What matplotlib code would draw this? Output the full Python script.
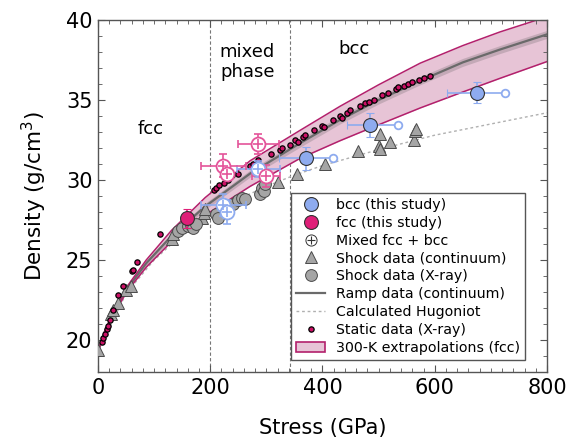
import numpy as np
import matplotlib
matplotlib.use("Agg")
import matplotlib.pyplot as plt
from matplotlib.lines import Line2D
from matplotlib.patches import Patch
from matplotlib.ticker import MultipleLocator

# 300-K extrapolation band (fcc) + ramp curve (continuum)
band_p = [0, 12, 29, 53, 86, 131, 191, 271, 360, 431, 500, 574, 650, 716, 800]
band_hi = [19.3, 20.55, 21.9, 23.4, 25.0, 26.85, 28.9, 31.2, 33.1, 34.6, 35.95, 37.3,
           38.4, 39.25, 40.2]
band_lo = [19.3, 20.45, 21.7, 23.1, 24.55, 26.15, 27.8, 29.6, 31.35, 32.45, 33.45, 34.5,
           35.5, 36.35, 37.4]
ramp_rho = [19.3, 20.5, 21.8, 23.25, 24.8, 26.5, 28.35, 30.4, 32.3, 33.75, 35.0, 36.2,
            37.35, 38.15, 39.1]
ramp_unc = [0.0, 0.05, 0.1, 0.12, 0.15, 0.18, 0.2, 0.22, 0.25, 0.25, 0.25, 0.25, 0.25,
            0.25, 0.25]

# calculated Hugoniot
hug_p = [0, 50, 100, 150, 200, 250, 300, 350, 400, 500, 600, 700, 800]
hug_rho = [19.3, 22.9, 25.0, 26.6, 27.8, 28.8, 29.6, 30.3, 30.9, 31.9, 32.8, 33.5, 34.2]

# shock data (continuum)
shk_p = [0.5, 23, 26, 35, 50, 58, 131, 134, 186, 189, 191, 321, 354, 404, 463,
         501, 502, 502, 520, 563, 565, 567]
shk_rho = [19.4, 21.6, 21.85, 22.3, 23.1, 23.35, 26.3, 26.6, 27.6, 27.95, 28.2, 29.9,
           30.35, 31.0, 31.8, 32.1, 31.95, 32.85, 32.35, 32.5, 33.05, 33.2]

# shock data (X-ray)
shx_p = [143, 150, 160, 165, 170, 174, 210, 213, 241, 250, 256, 262, 289, 292, 295, 297]
shx_rho = [26.8, 27.0, 27.1, 27.2, 27.0, 27.25, 27.9, 27.6, 28.5, 28.75, 28.85, 28.8,
           29.1, 29.5, 29.3, 29.75]

# static data (X-ray)
st_p = [6.6, 9.5, 12.5, 15.5, 18.4, 21, 27, 36, 45, 60, 62, 69, 110, 207, 211, 216,
        225, 232, 238, 250, 271, 276, 286, 309, 324, 327, 342, 351, 357, 366, 369, 384,
        399, 402, 419, 431, 434, 444, 449, 466, 476, 482, 491, 506, 517, 531, 535, 546,
        553, 560, 572, 581, 592]
st_rho = [19.9, 20.1, 20.4, 20.7, 20.9, 21.25, 21.9, 22.8, 23.4, 24.3, 24.4, 24.86, 26.6,
          29.35, 29.5, 29.7, 29.8, 30.0, 30.3, 30.35, 30.9, 31.0, 31.25, 31.6, 31.9,
          32.0, 32.2, 32.5, 32.35, 32.7, 32.8, 33.1, 33.4, 33.3, 33.75, 34.0, 33.9, 34.2,
          34.4, 34.6, 34.8, 34.9, 35.0, 35.3, 35.45, 35.7, 35.8, 35.9, 36.0, 36.1, 36.25,
          36.4, 36.5]

# this study
fcc_p, fcc_rho, fcc_xerr, fcc_yerr = [159], [27.6], [8], [0.6]

bcc_p = [370, 485, 676]
bcc_rho = [31.35, 33.45, 35.45]
bcc_xerr_lo = [48, 42, 55]
bcc_yerr = [0.7, 0.75, 0.65]
bcc_p_open = [419, 535, 726]

mixf_p = [223, 229, 286, 299]
mixf_rho = [30.9, 30.4, 32.25, 30.25]
mixf_xerr = [40, 0, 37, 25]
mixf_yerr = [0.7, 0, 0.62, 0.68]

mixb_p = [286, 223, 229]
mixb_rho = [30.7, 28.45, 28.0]
mixb_xerr = [38, 40, 0]
mixb_yerr = [0.5, 0.7, 0.75]

phase_bounds = [200, 343]

pink = '#df1f78'
pink_lt = '#e4549a'
blue = '#8eabef'
band_fill = '#e7c4d6'
band_edge = '#b3206c'
grey_fill = '#a5a5a5'
grey_edge = '#4a4a4a'

fig = plt.figure(figsize=(5.68, 4.47), dpi=100)
ax = fig.add_axes([0.1725, 0.1678, 0.7905, 0.7875])

ax.fill_between(band_p, band_lo, band_hi, color=band_fill, lw=0, zorder=1)
rm = np.array(ramp_rho)
ru = np.array(ramp_unc)
ax.fill_between(band_p, rm - ru, rm + ru, color='#9a8a92', alpha=0.45, lw=0, zorder=1.5)
ax.plot(band_p, ramp_rho, color='#6a6a6a', lw=1.6, zorder=2)
ax.plot(band_p, band_hi, color=band_edge, lw=1.1, zorder=2.2)
ax.plot(band_p, band_lo, color=band_edge, lw=1.1, zorder=2.2)
ax.plot(hug_p, hug_rho, color='#b0b0b0', ls=(0, (2, 2)), lw=1, zorder=2)

for b in phase_bounds:
    ax.axvline(b, color='#777777', ls=(0, (3, 2)), lw=0.8, zorder=0.5)

ax.plot(shk_p, shk_rho, '^', ms=9, mfc=grey_fill, mec=grey_edge, mew=0.7, zorder=4)
ax.plot(shx_p, shx_rho, 'o', ms=8.5, mfc=grey_fill, mec=grey_edge, mew=0.7, zorder=4)
ax.plot(st_p, st_rho, 'o', ms=3.8, mfc='#cc1166', mec='black', mew=0.9, zorder=5)

# mixed fcc + bcc
for xs, ys, xe, ye, c in [(mixb_p, mixb_rho, mixb_xerr, mixb_yerr, blue),
                          (mixf_p, mixf_rho, mixf_xerr, mixf_yerr, pink_lt)]:
    ax.errorbar(xs, ys, xerr=xe, yerr=ye, fmt='none', ecolor=c, elinewidth=1.2,
                capsize=3, capthick=1.2, zorder=6)
    ax.plot(xs, ys, 'o', ms=10, mfc='white', mec=c, mew=1.3, zorder=6.5)
    ax.plot(xs, ys, '+', ms=7, color=c, mew=1.2, zorder=6.6)

# bcc
for x, y, xo in zip(bcc_p, bcc_rho, bcc_p_open):
    ax.plot([x, xo], [y, y], color=blue, lw=1.2, zorder=6)
ax.plot(bcc_p_open, bcc_rho, 'o', ms=5.5, mfc='white', mec=blue, mew=1.3, zorder=6.2)
ax.errorbar(bcc_p, bcc_rho, xerr=[bcc_xerr_lo, [0] * 3], yerr=bcc_yerr, fmt='o', ms=10,
            mfc=blue, mec='#333333', mew=0.8, ecolor=blue, elinewidth=1.2, capsize=3,
            capthick=1.2, zorder=7)

# fcc
ax.errorbar(fcc_p, fcc_rho, xerr=fcc_xerr, yerr=fcc_yerr, fmt='o', ms=10, mfc=pink,
            mec='#333333', mew=0.8, ecolor=pink, elinewidth=1.2, capsize=3,
            capthick=1.2, zorder=7)

ax.text(93, 33.2, 'fcc', fontsize=13, ha='center', va='center')
ax.text(266, 37.4, 'mixed\nphase', fontsize=13, ha='center', va='center', linespacing=1.15)
ax.text(456, 38.2, 'bcc', fontsize=13, ha='center', va='center')

ax.set_xlim(0, 800)
ax.set_ylim(18, 40)
ax.set_xticks(range(0, 801, 200))
ax.set_yticks(range(20, 41, 5))
ax.xaxis.set_minor_locator(MultipleLocator(20))
ax.yaxis.set_minor_locator(MultipleLocator(1))
ax.tick_params(which='both', direction='in', top=True, right=True, color='#555555')
ax.tick_params(which='major', length=5, labelsize=15, pad=4)
ax.tick_params(which='minor', length=3)
for s in ax.spines.values():
    s.set_color('#555555')
    s.set_linewidth(1.0)

ax.set_xlabel('Stress (GPa)', fontsize=15, labelpad=15)
ax.set_ylabel('Density (g/cm$^{3}$)', fontsize=15.5, labelpad=12)

handles = [
    Line2D([], [], marker='o', ls='none', ms=10, mfc=blue, mec='#333333', mew=0.8),
    Line2D([], [], marker='o', ls='none', ms=10, mfc=pink, mec='#333333', mew=0.8),
    (Line2D([], [], marker='o', ls='none', ms=8, mfc='white', mec='#333333', mew=0.7),
     Line2D([], [], marker='+', ls='none', ms=5.5, color='#333333', mew=0.8)),
    Line2D([], [], marker='^', ls='none', ms=9, mfc=grey_fill, mec=grey_edge, mew=0.7),
    Line2D([], [], marker='o', ls='none', ms=8.5, mfc=grey_fill, mec=grey_edge, mew=0.7),
    Line2D([], [], color='#6a6a6a', lw=1.6),
    Line2D([], [], color='#b0b0b0', ls=(0, (2, 2)), lw=1),
    Line2D([], [], marker='o', ls='none', ms=3.8, mfc='#cc1166', mec='black', mew=0.9),
    Patch(facecolor=band_fill, edgecolor=band_edge, lw=1.2),
]
labels = ['bcc (this study)', 'fcc (this study)', 'Mixed fcc + bcc',
          'Shock data (continuum)', 'Shock data (X-ray)', 'Ramp data (continuum)',
          'Calculated Hugoniot', 'Static data (X-ray)', '300-K extrapolations (fcc)']
leg = ax.legend(handles, labels, loc='upper right', bbox_to_anchor=(0.951, 0.5085),
                fontsize=10.2, frameon=True, fancybox=False, edgecolor='#555555',
                framealpha=1, labelspacing=0.27, handlelength=2.0, handletextpad=0.8,
                borderpad=0.35, borderaxespad=0)
leg.get_frame().set_linewidth(1.0)
leg.set_zorder(10)

fig.savefig('out.png', dpi=100)
